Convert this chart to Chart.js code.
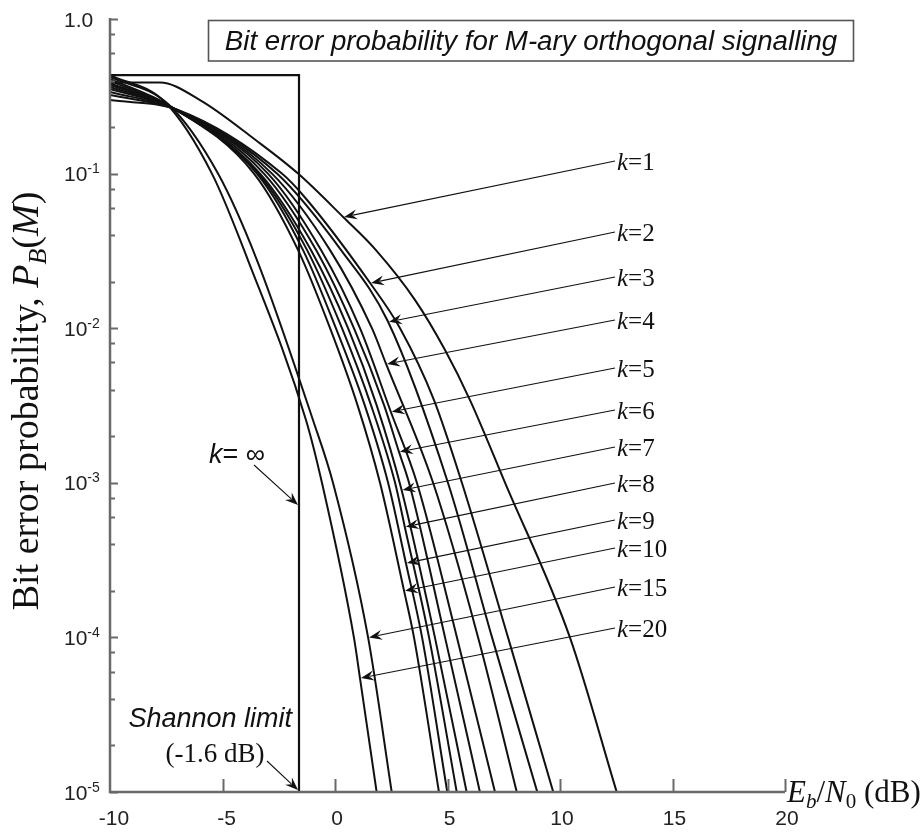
<!DOCTYPE html>
<html>
<head>
<meta charset="utf-8">
<script src="https://cdn.jsdelivr.net/npm/chart.js@4.4.1/dist/chart.umd.min.js"></script>
<style>
  html, body { margin: 0; padding: 0; background: #fff; }
  #wrap { width: 923px; height: 832px; }
</style>
</head>
<body>
<div id="wrap"><canvas id="berChart" width="923" height="832"></canvas></div>
<script>
// Eb/N0 in dB and bit error probability P_B(M), one pair of arrays per k = log2 M
const ebn0_k1 = [-10, -7.78, -6.0, -3.47, -1.64, 0.36, 1.82, 3.56, 4.89, 6.0, 7.56, 10.44, 12.52];
const pb_k1 = [0.388, 0.388, 0.299, 0.1625, 0.1, 0.0524, 0.032, 0.0152, 0.00723, 0.00343, 1e-3, 1e-4, 1e-5];

const ebn0_k2 = [-10, -6.98, -2.36, -1.24, 1.56, 2.89, 4.40, 5.64, 7.69, 9.70];
const pb_k2 = [0.299, 0.2578, 0.1, 0.0675, 0.0196, 1e-2, 0.00343, 1e-3, 1e-4, 1e-5];

const ebn0_k3 = [-10, -7.02, -2.58, 0.27, 2.36, 5.02, 6.98, 8.99];
const pb_k3 = [0.3224, 0.2578, 0.1, 0.032, 0.011, 1e-3, 1e-4, 1e-5];

const ebn0_k4 = [-10, -7.07, -2.8, -0.22, 1.64, 2.27, 4.36, 6.36, 8.08];
const pb_k4 = [0.337, 0.2598, 0.1, 0.032, 1e-2, 0.00587, 1e-3, 1e-4, 1e-5];

const ebn0_k5 = [-10, -7.11, -2.98, -0.62, 1.11, 2.48, 3.64, 5.42, 7.11];
const pb_k5 = [0.3526, 0.2617, 0.1, 0.032, 1e-2, 0.00288, 1e-3, 1e-4, 1e-5];

const ebn0_k6 = [-10, -7.16, -3.16, -0.84, 0.84, 2.18, 2.84, 3.29, 4.89, 6.44];
const pb_k6 = [0.363, 0.2637, 0.1, 0.032, 1e-2, 0.00318, 0.00159, 1e-3, 1e-4, 1e-5];

const ebn0_k7 = [-10, -7.2, -3.33, -1.07, 0.58, 1.85, 2.96, 4.44, 5.85];
const pb_k7 = [0.374, 0.2656, 0.1, 0.032, 1e-2, 0.00318, 0.000898, 1e-4, 1e-5];

const ebn0_k8 = [-10, -7.24, -3.4, -1.24, 0.31, 1.6, 2.67, 3.10, 4.18, 5.41];
const pb_k8 = [0.385, 0.2676, 0.1, 0.032, 1e-2, 0.00318, 1e-3, 0.00052, 1e-4, 1e-5];

const ebn0_k9 = [-10, -7.29, -3.47, -1.42, 0.04, 1.32, 2.36, 3.15, 3.87, 4.99];
const pb_k9 = [0.397, 0.2696, 0.1, 0.032, 1e-2, 0.00318, 1e-3, 0.000303, 1e-4, 1e-5];

const ebn0_k10 = [-10, -7.33, -3.6, -1.64, -0.22, 1.0, 2.0, 3.07, 3.51, 4.62];
const pb_k10 = [0.409, 0.2736, 0.1, 0.032, 1e-2, 0.00318, 1e-3, 0.0002, 1e-4, 1e-5];

const ebn0_k15 = [-10, -7.42, -5.2, -3.47, -0.98, -0.09, 1.47, 2.52];
const pb_k15 = [0.4215, 0.2818, 0.1, 0.0276, 0.00255, 1e-3, 1e-4, 1e-5];

const ebn0_k20 = [-10, -7.56, -5.47, -3.87, -1.29, -0.58, 0.84, 1.11, 1.85];
const pb_k20 = [0.434, 0.2904, 0.1, 0.0276, 0.00255, 1e-3, 1e-4, 5.46e-5, 1e-5];

const kValues = [1, 2, 3, 4, 5, 6, 7, 8, 9, 10, 15, 20];
const ebn0Series = [ebn0_k1, ebn0_k2, ebn0_k3, ebn0_k4, ebn0_k5, ebn0_k6,
                    ebn0_k7, ebn0_k8, ebn0_k9, ebn0_k10, ebn0_k15, ebn0_k20];
const pbSeries = [pb_k1, pb_k2, pb_k3, pb_k4, pb_k5, pb_k6,
                  pb_k7, pb_k8, pb_k9, pb_k10, pb_k15, pb_k20];
// point on each curve that its k= label arrow points at
const arrowPoint = [5, 4, 4, 5, 5, 6, 6, 7, 7, 7, 6, 7];

// k = infinity: flat until the Shannon limit, then a wall
const shannonLimitDb = -1.6;
const ebn0_inf = [-10, shannonLimitDb, shannonLimitDb];
const pb_inf = [0.434, 0.434, 1e-5];

const xTicks = [-10, -5, 0, 5, 10, 15, 20];
const yExponents = [0, -1, -2, -3, -4, -5];
const yMinorSteps = [0.8, 0.6, 0.4, 0.2];

const SANS = '"Liberation Sans", Arial, sans-serif';
const SERIF = '"Liberation Serif", "Times New Roman", serif';
const AXIS_GRAY = '#6a6a6a';
const INK = '#111';

// label anchors for the k= annotations (left edge of text, vertical centre)
const kLabelX = 617;
const kLabelY = [161, 232, 277, 320, 368, 410, 447, 483, 520, 548, 587, 628];

function toPoints(xs, ys) {
  return xs.map((x, i) => ({ x: x, y: ys[i] }));
}

function measureRuns(ctx, runs) {
  let total = 0;
  runs.forEach(r => {
    ctx.font = r.font;
    r.w = ctx.measureText(r.text).width;
    total += r.w;
  });
  return total;
}

function drawRuns(ctx, runs, x, y, align) {
  const total = measureRuns(ctx, runs);
  let cx = align === 'center' ? x - total / 2 : align === 'right' ? x - total : x;
  runs.forEach(r => {
    ctx.font = r.font;
    ctx.fillText(r.text, cx, y + (r.dy || 0));
    cx += r.w;
  });
  return total;
}

function drawArrow(ctx, x1, y1, x2, y2) {
  const a = Math.atan2(y2 - y1, x2 - x1);
  const c = Math.cos(a), s = Math.sin(a);
  const len = 13, half = 5;
  ctx.beginPath();
  ctx.moveTo(x1, y1);
  ctx.lineTo(x2 - c * len * 0.7, y2 - s * len * 0.7);
  ctx.stroke();
  ctx.beginPath();
  ctx.moveTo(x2, y2);
  ctx.lineTo(x2 - c * len - s * half, y2 - s * len + c * half);
  ctx.lineTo(x2 - c * len * 0.65, y2 - s * len * 0.65);
  ctx.lineTo(x2 - c * len + s * half, y2 - s * len - c * half);
  ctx.closePath();
  ctx.fill();
}

function yTitleRuns(size) {
  const sub = Math.round(size * 0.68);
  return [
    { text: 'Bit error probability, ', font: size + 'px ' + SERIF },
    { text: 'P', font: 'italic ' + size + 'px ' + SERIF },
    { text: 'B', font: 'italic ' + sub + 'px ' + SERIF, dy: size * 0.2 },
    { text: '(', font: size + 'px ' + SERIF },
    { text: 'M', font: 'italic ' + size + 'px ' + SERIF },
    { text: ')', font: size + 'px ' + SERIF }
  ];
}

const decorPlugin = {
  id: 'berDecor',
  afterDraw(chart) {
    const ctx = chart.ctx;
    const xs = chart.scales.x;
    const ys = chart.scales.y;
    const area = chart.chartArea;
    ctx.save();

    // axes
    ctx.strokeStyle = AXIS_GRAY;
    ctx.lineWidth = 2.5;
    ctx.beginPath();
    ctx.moveTo(area.left, area.top - 1);
    ctx.lineTo(area.left, area.bottom);
    ctx.lineTo(area.right, area.bottom);
    ctx.stroke();

    ctx.lineWidth = 2;
    ctx.beginPath();
    xTicks.forEach(v => {
      if (v === xTicks[0]) return;
      const px = Math.round(xs.getPixelForValue(v)) + 0.5;
      ctx.moveTo(px, area.bottom);
      ctx.lineTo(px, area.bottom - 13);
    });
    yExponents.forEach(e => {
      const py = Math.round(ys.getPixelForValue(Math.pow(10, e))) + 0.5;
      ctx.moveTo(area.left, py);
      ctx.lineTo(area.left + 8, py);
      if (e < 0) {
        yMinorSteps.forEach(m => {
          const pm = Math.round(ys.getPixelForValue(m * Math.pow(10, e + 1))) + 0.5;
          ctx.moveTo(area.left, pm);
          ctx.lineTo(area.left + 5, pm);
        });
      }
    });
    ctx.stroke();

    // tick labels
    ctx.fillStyle = '#222';
    ctx.textBaseline = 'middle';
    ctx.textAlign = 'center';
    ctx.font = '21px ' + SANS;
    xTicks.forEach(v => {
      ctx.fillText(String(v), xs.getPixelForValue(v) + (v < 0 ? 4 : 2), 819);
    });
    ctx.textAlign = 'left';
    ctx.textBaseline = 'alphabetic';
    yExponents.forEach(e => {
      const py = ys.getPixelForValue(Math.pow(10, e));
      if (e === 0) {
        drawRuns(ctx, [{ text: '1.0', font: '21px ' + SANS }], 64, py + 7.5, 'left');
      } else {
        drawRuns(ctx, [
          { text: '10', font: '21px ' + SANS },
          { text: String(e), font: '14px ' + SANS, dy: -8 }
        ], 64, py + 7.5, 'left');
      }
    });

    // axis titles
    ctx.fillStyle = INK;
    drawRuns(ctx, [
      { text: 'E', font: 'italic 31px ' + SERIF },
      { text: 'b', font: 'italic 21px ' + SERIF, dy: 6 },
      { text: '/', font: '31px ' + SERIF },
      { text: 'N', font: 'italic 31px ' + SERIF },
      { text: '0', font: '21px ' + SERIF, dy: 6 },
      { text: ' (dB)', font: '31px ' + SERIF }
    ], 787, area.bottom + 10, 'left');

    // vertical title sized to run from just above 10^-4 up to 10^-2
    let ySize = 30;
    ySize = ySize * 420 / measureRuns(ctx, yTitleRuns(ySize));
    ctx.save();
    ctx.translate(38, 401);
    ctx.rotate(-Math.PI / 2);
    drawRuns(ctx, yTitleRuns(Math.round(ySize)), 0, 0, 'center');
    ctx.restore();

    // title box
    ctx.strokeStyle = '#555';
    ctx.lineWidth = 1.6;
    ctx.fillStyle = '#fff';
    ctx.fillRect(208, 20, 645, 41);
    ctx.strokeRect(208.5, 20.5, 645, 40.5);
    ctx.fillStyle = INK;
    ctx.textAlign = 'center';
    ctx.textBaseline = 'middle';
    ctx.font = 'italic 27.7px ' + SANS;
    ctx.fillText('Bit error probability for M-ary orthogonal signalling', 531, 42);

    // k= labels with arrows to their curves
    ctx.strokeStyle = INK;
    ctx.fillStyle = INK;
    ctx.lineWidth = 1.1;
    ctx.textAlign = 'left';
    ctx.textBaseline = 'alphabetic';
    kValues.forEach((k, i) => {
      const idx = arrowPoint[i];
      const tx = xs.getPixelForValue(ebn0Series[i][idx]);
      const ty = ys.getPixelForValue(pbSeries[i][idx]);
      const ly = kLabelY[i];
      drawArrow(ctx, kLabelX - 2, ly, tx + 1, ty);
      drawRuns(ctx, [
        { text: 'k', font: 'italic 25px ' + SERIF },
        { text: '=' + k, font: '25px ' + SERIF }
      ], kLabelX, ly + 8.5, 'left');
    });

    // k = infinity and the Shannon limit
    const wallX = xs.getPixelForValue(shannonLimitDb);
    drawArrow(ctx, wallX - 45, 465, wallX - 1, 505);
    drawRuns(ctx, [
      { text: 'k', font: 'italic 27px ' + SANS },
      { text: '= \u221E', font: '27px ' + SANS }
    ], wallX - 90, 463, 'left');

    drawArrow(ctx, wallX - 32, 761, wallX - 1, 790);
    ctx.textAlign = 'right';
    ctx.font = 'italic 27px ' + SANS;
    ctx.fillText('Shannon limit', wallX - 7, 727);
    ctx.textAlign = 'center';
    ctx.font = '27px ' + SERIF;
    ctx.fillText('(-1.6 dB)', wallX - 84, 762);

    ctx.restore();
  }
};

const datasets = kValues.map((k, i) => ({
  label: 'k=' + k,
  data: toPoints(ebn0Series[i], pbSeries[i]),
  showLine: true,
  borderColor: INK,
  borderWidth: 2,
  pointRadius: 0,
  cubicInterpolationMode: 'monotone',
  fill: false
}));
datasets.push({
  label: 'k=\u221E',
  data: toPoints(ebn0_inf, pb_inf),
  showLine: true,
  borderColor: INK,
  borderWidth: 2.2,
  pointRadius: 0,
  tension: 0,
  fill: false
});

new Chart(document.getElementById('berChart').getContext('2d'), {
  type: 'scatter',
  data: { datasets: datasets },
  options: {
    responsive: false,
    animation: false,
    devicePixelRatio: 1,
    layout: { padding: { left: 110, top: 19, right: 138, bottom: 40 } },
    plugins: { legend: { display: false }, tooltip: { enabled: false } },
    scales: {
      x: { type: 'linear', min: -10, max: 20, display: false },
      y: { type: 'logarithmic', min: 1e-5, max: 1, display: false }
    }
  },
  plugins: [decorPlugin]
});
</script>
</body>
</html>
